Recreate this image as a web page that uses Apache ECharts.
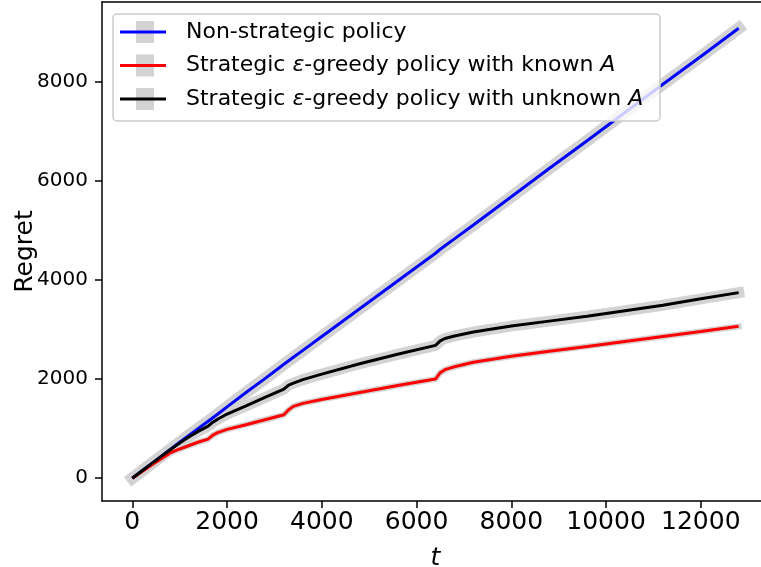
<!DOCTYPE html>
<html>
<head>
<meta charset="utf-8">
<script src="https://cdn.jsdelivr.net/npm/echarts@6/dist/echarts.min.js"></script>
<style>
  html, body { margin: 0; padding: 0; background: #fff; overflow: hidden; }
  #chart { width: 761px; height: 567px; overflow: hidden; }
</style>
</head>
<body>
<div id="chart"></div>
<script>
// time steps
const tValues = [0, 200, 400, 800, 1000, 1200, 1400, 1600, 1700, 1800, 2000, 2400, 2800, 3200, 3300, 3400, 3600,
  4000, 4800, 5600, 6400, 6500, 6600, 6800, 7200, 8000, 8800, 9600, 10400, 11200, 12000, 12800]

const nonStrategic = [0, 145, 290, 580, 725, 870, 1010, 1150, 1220, 1290, 1440, 1730, 2010, 2300, 2370, 2440, 2580,
  2860, 3420, 3980, 4540, 4620, 4690, 4830, 5110, 5680, 6250, 6810, 7380, 7950, 8510, 9080]
const knownA = [0, 130, 260, 510, 590, 660, 730, 790, 870, 920, 985, 1080, 1180, 1280, 1380, 1450, 1510,
  1590, 1730, 1870, 2000, 2130, 2190, 2250, 2340, 2460, 2560, 2660, 2760, 2860, 2960, 3065]
const unknownA = [0, 145, 290, 575, 710, 835, 950, 1050, 1130, 1190, 1295, 1460, 1630, 1800, 1880, 1920, 1990,
  2100, 2310, 2500, 2680, 2770, 2820, 2870, 2950, 3070, 3170, 3270, 3380, 3490, 3620, 3745]

const xTicks = [0, 2000, 4000, 6000, 8000, 10000, 12000]
const yTicks = [0, 2000, 4000, 6000, 8000]

const seriesNames = ['Non-strategic policy', 'Strategic ε-greedy policy with known A', 'Strategic ε-greedy policy with unknown A']
const seriesColors = ['#0000ff', '#ff0000', '#000000']
const bandWidths = [12, 6, 11]

const FONT = 'DejaVu Sans'
const BAND = '#d3d3d3'

function pairs(ys) {
  return tValues.map((t, i) => [t, ys[i]])
}

const allData = [nonStrategic, knownA, unknownA]

const series = []
allData.forEach((ys, i) => {
  series.push({
    type: 'line',
    data: pairs(ys),
    showSymbol: false,
    symbol: 'none',
    silent: true,
    clip: false,
    z: 1,
    lineStyle: { color: BAND, width: bandWidths[i], cap: 'square', join: 'round' }
  })
})
allData.forEach((ys, i) => {
  series.push({
    name: seriesNames[i],
    type: 'line',
    data: pairs(ys),
    showSymbol: false,
    symbol: 'none',
    z: 3 + i,
    itemStyle: { color: seriesColors[i] },
    lineStyle: { color: seriesColors[i], width: 3 }
  })
})

// legend drawn by hand, matplotlib-like: grey patch under a coloured line
const legendTexts = [
  '{n|Non-strategic policy}',
  '{n|Strategic }{i|ε}{n|-greedy policy with known }{i|A}',
  '{n|Strategic }{i|ε}{n|-greedy policy with unknown }{i|A}'
]
const graphic = [{
  type: 'rect',
  shape: { x: 113, y: 14, width: 547, height: 107, r: 4 },
  style: { fill: 'rgba(255,255,255,0.8)', stroke: '#cccccc', lineWidth: 1.5 },
  z: 100
}]
legendTexts.forEach((txt, i) => {
  const cy = 32 + 33.5 * i
  graphic.push({
    type: 'rect',
    shape: { x: 136, y: cy - 11, width: 18, height: 22 },
    style: { fill: BAND },
    z: 101
  })
  graphic.push({
    type: 'line',
    shape: { x1: 120, y1: cy, x2: 166, y2: cy },
    style: { stroke: seriesColors[i], lineWidth: 3 },
    z: 102
  })
  graphic.push({
    type: 'text',
    x: 186,
    y: cy,
    style: {
      text: txt,
      verticalAlign: 'middle',
      fill: '#000',
      rich: {
        n: { fontFamily: FONT, fontSize: 22, fill: '#000' },
        i: { fontFamily: FONT, fontSize: 22, fontStyle: 'italic', fill: '#000' }
      }
    },
    z: 102
  })
})

const plain = v => String(v)
const frameLine = { show: true, onZero: false, lineStyle: { color: '#000', width: 1.5 } }

const chart = echarts.init(document.getElementById('chart'))
chart.setOption({
  animation: false,
  backgroundColor: '#fff',
  grid: {
    left: 102,
    top: 2,
    height: 499,
    width: 667,
    containLabel: false,
    outerBoundsMode: 'none',
    show: false
  },
  xAxis: [{
    type: 'value',
    position: 'bottom',
    min: -640,
    max: 13440,
    name: 't',
    nameLocation: 'middle',
    nameGap: 45,
    nameMoveOverlap: false,
    nameTextStyle: { fontFamily: FONT, fontSize: 25, fontStyle: 'italic', color: '#000' },
    axisLine: frameLine,
    axisTick: { show: true, length: 7, customValues: xTicks, lineStyle: { color: '#000', width: 1.5 } },
    axisLabel: { customValues: xTicks, formatter: plain, fontFamily: FONT, fontSize: 25, color: '#000', margin: 9 },
    splitLine: { show: false }
  }, {
    // top spine only
    type: 'value',
    position: 'top',
    min: -640,
    max: 13440,
    axisLine: frameLine,
    axisTick: { show: false },
    axisLabel: { show: false },
    splitLine: { show: false }
  }],
  yAxis: {
    type: 'value',
    min: -460,
    max: 9610,
    name: 'Regret',
    nameLocation: 'middle',
    nameGap: 64,
    nameMoveOverlap: false,
    nameTextStyle: { fontFamily: FONT, fontSize: 25, color: '#000' },
    axisLine: frameLine,
    axisTick: { show: true, length: 7, customValues: yTicks, lineStyle: { color: '#000', width: 1.5 } },
    axisLabel: { customValues: yTicks, formatter: plain, fontFamily: FONT, fontSize: 20, color: '#000', margin: 14 },
    splitLine: { show: false }
  },
  graphic: graphic,
  series: series
})
</script>
</body>
</html>
